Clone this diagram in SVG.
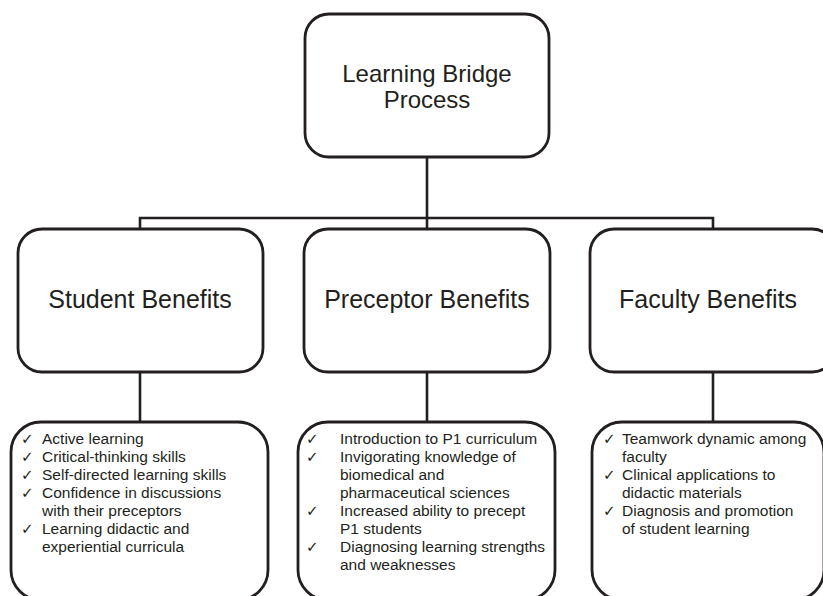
<svg xmlns="http://www.w3.org/2000/svg" width="823" height="596" viewBox="0 0 823 596">
<style>
.box{fill:#fff;stroke:#231f20;stroke-width:2.8}
.con{fill:none;stroke:#231f20;stroke-width:2.6}
.t{font-family:"Liberation Sans",Arial,sans-serif;fill:#231f20}
.big{font-size:24px;text-anchor:middle}
.mid{font-size:25px;text-anchor:middle}
.li{font-size:15.5px}
.ck{font-family:"DejaVu Sans",sans-serif;font-size:15px;fill:#231f20}
</style>
<rect width="823" height="596" fill="#fff"/>
<g id="connectors">
<path class="con" d="M427 157V229M140 229V218H713V229"/>
<path class="con" d="M140 372V422M427 372V422M713 372V422"/>
</g>
<g id="root">
<rect class="box" x="305" y="14" width="244" height="143" rx="24"/>
<text class="t big" x="427" y="82">Learning Bridge</text>
<text class="t big" x="427" y="108">Process</text>
</g>
<g id="student">
<rect class="box" x="18" y="229" width="245" height="143" rx="24"/>
<text class="t mid" x="140" y="308">Student Benefits</text>
</g>
<g id="preceptor">
<rect class="box" x="304" y="229" width="246" height="143" rx="24"/>
<text class="t mid" x="427" y="308">Preceptor Benefits</text>
</g>
<g id="faculty">
<rect class="box" x="590" y="229" width="246" height="143" rx="24"/>
<text class="t mid" x="708" y="308">Faculty Benefits</text>
</g>
<g id="student-list">
<rect class="box" x="11" y="422" width="257" height="178" rx="30"/>
<text class="ck" x="21" y="444">✓</text>
<text class="ck" x="21" y="462">✓</text>
<text class="ck" x="21" y="480">✓</text>
<text class="ck" x="21" y="498">✓</text>
<text class="ck" x="21" y="534">✓</text>
<text class="t li" x="42" y="444">Active learning</text>
<text class="t li" x="42" y="462">Critical-thinking skills</text>
<text class="t li" x="42" y="480">Self-directed learning skills</text>
<text class="t li" x="42" y="498">Confidence in discussions</text>
<text class="t li" x="42" y="516">with their preceptors</text>
<text class="t li" x="42" y="534">Learning didactic and</text>
<text class="t li" x="42" y="552">experiential curricula</text>
</g>
<g id="preceptor-list">
<rect class="box" x="298" y="422" width="257" height="178" rx="30"/>
<text class="ck" x="306" y="444">✓</text>
<text class="ck" x="306" y="462">✓</text>
<text class="ck" x="306" y="516">✓</text>
<text class="ck" x="306" y="552">✓</text>
<text class="t li" x="340" y="444">Introduction to P1 curriculum</text>
<text class="t li" x="340" y="462">Invigorating knowledge of</text>
<text class="t li" x="340" y="480">biomedical and</text>
<text class="t li" x="340" y="498">pharmaceutical sciences</text>
<text class="t li" x="340" y="516">Increased ability to precept</text>
<text class="t li" x="340" y="534">P1 students</text>
<text class="t li" x="340" y="552">Diagnosing learning strengths</text>
<text class="t li" x="340" y="570">and weaknesses</text>
</g>
<g id="faculty-list">
<rect class="box" x="592" y="422" width="232" height="178" rx="30"/>
<text class="ck" x="603" y="444">✓</text>
<text class="ck" x="603" y="480">✓</text>
<text class="ck" x="603" y="516">✓</text>
<text class="t li" x="622" y="444">Teamwork dynamic among</text>
<text class="t li" x="622" y="462">faculty</text>
<text class="t li" x="622" y="480">Clinical applications to</text>
<text class="t li" x="622" y="498">didactic materials</text>
<text class="t li" x="622" y="516">Diagnosis and promotion</text>
<text class="t li" x="622" y="534">of student learning</text>
</g>
</svg>
